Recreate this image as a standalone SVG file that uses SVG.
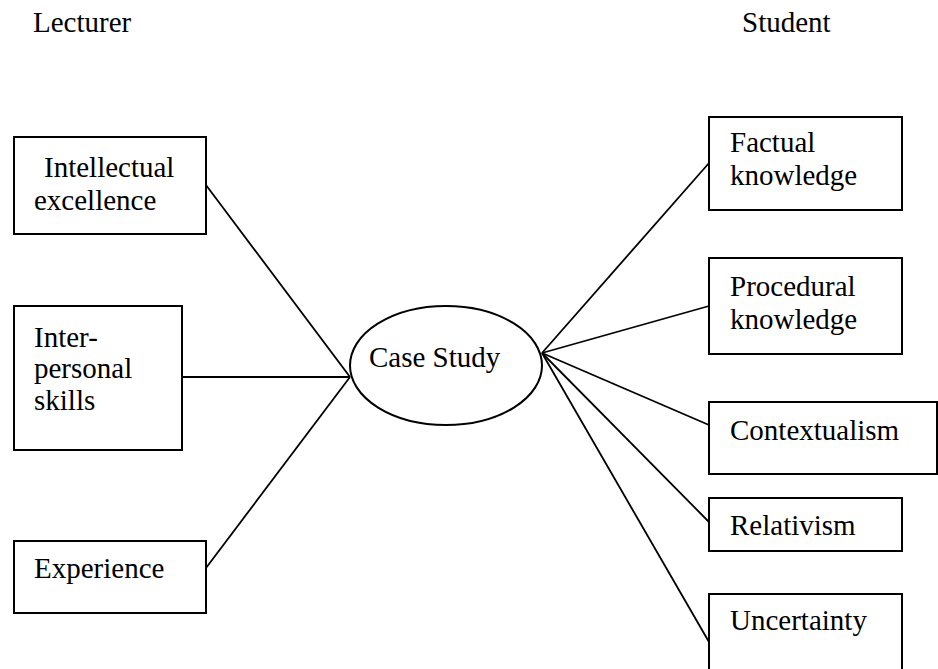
<svg xmlns="http://www.w3.org/2000/svg" width="938" height="669" viewBox="0 0 938 669">
<style>
text{font-family:"Liberation Serif","Times New Roman",serif;font-size:29px;fill:#000}
.box{fill:#fff;stroke:#000;stroke-width:2}
.conn line{stroke:#000;stroke-width:1.8}
</style>
<rect width="938" height="669" fill="#fff"/>
<g id="header-lecturer"><text x="33" y="32">Lecturer</text></g>
<g id="header-student"><text x="742" y="32">Student</text></g>
<g class="conn" id="connectors">
<line x1="206" y1="185" x2="350" y2="377"/>
<line x1="182" y1="377" x2="350" y2="377"/>
<line x1="206" y1="568" x2="350" y2="377"/>
<line x1="542" y1="353" x2="709" y2="163"/>
<line x1="542" y1="353" x2="709" y2="306"/>
<line x1="542" y1="353" x2="709" y2="425"/>
<line x1="542" y1="353" x2="709" y2="522"/>
<line x1="542" y1="353" x2="709" y2="642"/>
</g>
<g id="intellectual"><rect class="box" x="14" y="137" width="192" height="97"/><text x="44" y="177">Intellectual</text><text x="34" y="210">excellence</text></g>
<g id="interpersonal"><rect class="box" x="14" y="306" width="168" height="144"/><text x="34" y="347">Inter-</text><text x="34" y="378">personal</text><text x="34" y="410">skills</text></g>
<g id="experience"><rect class="box" x="14" y="541" width="192" height="72"/><text x="34" y="578">Experience</text></g>
<g id="casestudy"><ellipse cx="446" cy="365.5" rx="96" ry="59.5" fill="#fff" stroke="#000" stroke-width="2"/><text x="369" y="367">Case Study</text></g>
<g id="factual"><rect class="box" x="709" y="117" width="193" height="93"/><text x="730" y="152">Factual</text><text x="730" y="185">knowledge</text></g>
<g id="procedural"><rect class="box" x="709" y="258" width="193" height="96"/><text x="730" y="296">Procedural</text><text x="730" y="329">knowledge</text></g>
<g id="contextualism"><rect class="box" x="709" y="402" width="228" height="72"/><text x="730" y="440">Contextualism</text></g>
<g id="relativism"><rect class="box" x="709" y="498" width="193" height="53"/><text x="730" y="535">Relativism</text></g>
<g id="uncertainty"><rect class="box" x="709" y="594" width="193" height="80"/><text x="730" y="630">Uncertainty</text></g>
</svg>
